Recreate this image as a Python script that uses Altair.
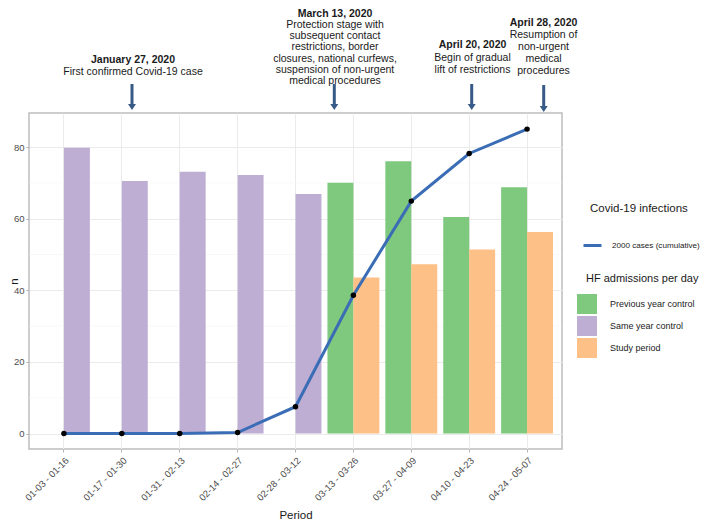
import altair as alt
import pandas as pd

# ---------------- data ----------------
periods = ["01-03 - 01-16", "01-17 - 01-30", "01-31 - 02-13", "02-14 - 02-27",
           "02-28 - 03-12", "03-13 - 03-26", "03-27 - 04-09", "04-10 - 04-23",
           "04-24 - 05-07"]
same_year_control = [79.8, 70.5, 73.1, 72.2, 66.9]          # first 5 periods
previous_year_control = [70.0, 76.0, 60.5, 68.8]            # last 4 periods
study_period = [43.6, 47.3, 51.4, 56.3]                     # last 4 periods
covid_cases_2000 = [0.0, 0.0, 0.0, 0.3, 7.5, 38.6, 64.9, 78.2, 85.0]

group_names = ["Previous year control", "Same year control", "Study period"]
group_colors = ["#7fc97f", "#beaed4", "#fdc086"]
line_label = "2000 cases (cumulative)"
legend_titles = ["Covid-19 infections", "HF admissions per day"]

annotation_titles = ["January 27, 2020", "March 13, 2020", "April 20, 2020", "April 28, 2020"]
annotation_texts = [
    "First confirmed Covid-19 case",
    "Protection stage with\nsubsequent contact\nrestrictions, border\nclosures, national curfews,\nsuspension of non-urgent\nmedical procedures",
    "Begin of gradual\nlift of restrictions",
    "Resumption of\nnon-urgent\nmedical\nprocedures",
]

# ---------------- tables ----------------
rows = []
for p, v in zip(periods[:5], same_year_control):
    rows.append({"period": p, "n": v, "group": "Same year control", "slot": "b"})
for p, v in zip(periods[5:], previous_year_control):
    rows.append({"period": p, "n": v, "group": "Previous year control", "slot": "a"})
for p, v in zip(periods[5:], study_period):
    rows.append({"period": p, "n": v, "group": "Study period", "slot": "b"})
bars_df = pd.DataFrame(rows)
line_df = pd.DataFrame({"period": periods, "n": covid_cases_2000, "series": line_label})
minor_df = pd.DataFrame({"n": [10, 30, 50, 70]})

FONT = "Liberation Sans"
TXT = "#1a1a1a"
xscale = alt.Scale(domain=periods, paddingInner=0.1034, paddingOuter=0.155)
yscale = alt.Scale(domain=[-4.3, 89.5], nice=False, zero=False)

xaxis = alt.Axis(labelAngle=-45, grid=True, bandPosition=0.5, tickSize=3,
                 labelPadding=3, titleY=66, titleBaseline="middle")
yaxis = alt.Axis(values=[0, 20, 40, 60, 80], tickSize=3, labelPadding=2,
                 titleX=-10, titleY=168, titleBaseline="bottom")

minor = alt.Chart(minor_df).mark_rule(color="#f3f3f3", strokeWidth=0.6).encode(
    y=alt.Y("n:Q", scale=yscale, axis=yaxis, title="n"))

bars = alt.Chart(bars_df).mark_bar().encode(
    x=alt.X("period:N", scale=xscale, axis=xaxis, title="Period", sort=periods),
    xOffset=alt.XOffset("slot:N", scale=alt.Scale(domain=["a", "b"], paddingInner=0, paddingOuter=0)),
    y=alt.Y("n:Q", scale=yscale, axis=yaxis, title="n"),
    color=alt.Color("group:N",
                    scale=alt.Scale(domain=group_names, range=group_colors),
                    legend=alt.Legend(title=None, orient="none",
                                      legendX=548, legendY=181, symbolType="square",
                                      symbolSize=400, symbolStrokeWidth=0, symbolOpacity=1,
                                      rowPadding=2, labelOffset=13, labelFontSize=9)),
)

line = alt.Chart(line_df).mark_line(strokeWidth=3).encode(
    x=alt.X("period:N", scale=xscale, axis=xaxis, title="Period", sort=periods),
    y=alt.Y("n:Q", scale=yscale, axis=yaxis, title="n"),
    stroke=alt.Stroke("series:N", scale=alt.Scale(domain=[line_label], range=["#3a6db5"]),
                      legend=alt.Legend(title=None, orient="none",
                                        legendX=553, legendY=122, symbolType="stroke",
                                        symbolStrokeWidth=3, symbolSize=324,
                                        labelOffset=9, labelFontSize=8.1, labelLimit=200)),
)

points = alt.Chart(line_df).mark_circle(size=30, color="black", opacity=1).encode(
    x=alt.X("period:N", scale=xscale, axis=xaxis, title="Period", sort=periods),
    y=alt.Y("n:Q", scale=yscale, axis=yaxis, title="n"),
)

# legend titles as text
legend_title_x = [561, 557]
legend_title_y = [96, 166]
legend_title_size = [11.5, 11]
leg_layers = []
for i in range(2):
    leg_layers.append(alt.Chart(pd.DataFrame({"t": [legend_titles[i]]})).mark_text(
        font=FONT, fontSize=legend_title_size[i], align="left", baseline="middle", color=TXT).encode(
        x=alt.value(legend_title_x[i]), y=alt.value(legend_title_y[i]), text="t:N"))

# ---------------- annotations (layout) ----------------
ann_x = [104, 306, 443.5, 514.5]
ann_title_y = [-53, -99.5, -68, -90.3]
ann_text_y = [-41, -88, -55, -78]
ann_line_h = [12, 11.2, 12.2, 12]
arrow_x = [103, 305.3, 442.7, 514.7]
arrow_top = [-29, -29, -29, -28]
arrow_tip = [-3, -3, -3, -1]
ARROW_COLOR = "#375a87"

ann_layers = []
for i in range(4):
    df = pd.DataFrame({"title": [annotation_titles[i]], "text": [annotation_texts[i]]})
    base = alt.Chart(df)
    ann_layers.append(base.mark_text(font=FONT, fontSize=10.5, fontWeight="bold", align="center",
                                     baseline="middle", color=TXT).encode(
        x=alt.value(ann_x[i]), y=alt.value(ann_title_y[i]), text="title:N"))
    ann_layers.append(base.mark_text(font=FONT, fontSize=10.5, align="center", baseline="middle",
                                     lineBreak="\n", lineHeight=ann_line_h[i], color=TXT).encode(
        x=alt.value(ann_x[i]), y=alt.value(ann_text_y[i]), text="text:N"))
    ann_layers.append(base.mark_rule(color=ARROW_COLOR, strokeWidth=3).encode(
        x=alt.value(arrow_x[i]), y=alt.value(arrow_top[i]), y2=alt.value(arrow_tip[i] - 5)))
    ann_layers.append(base.mark_point(shape="M-1,-0.75L1,-0.75L0,0.75Z", filled=True, size=64,
                                      color=ARROW_COLOR, opacity=1).encode(
        x=alt.value(arrow_x[i]), y=alt.value(arrow_tip[i] - 3)))

chart = alt.layer(minor, bars, line, points, *leg_layers, *ann_layers).properties(
    width=533, height=336,
    padding={"left": 21, "top": 105, "right": 139, "bottom": 72},
    autosize=alt.AutoSizeParams(type="none"),
).configure_view(
    stroke="#bdbdbd", strokeWidth=1.5
).configure_axis(
    labelFont=FONT, titleFont=FONT, labelColor="#4d4d4d", titleColor=TXT,
    gridColor="#ebebeb", gridWidth=1, tickColor="#b3b3b3", domain=False,
    labelFontSize=9.5, titleFontSize=11.5, titleFontWeight="normal",
).configure_legend(
    labelFont=FONT, titleFont=FONT, labelColor=TXT, padding=0,
)

chart.save("out.html", embed_options={"renderer": "svg", "actions": False})
